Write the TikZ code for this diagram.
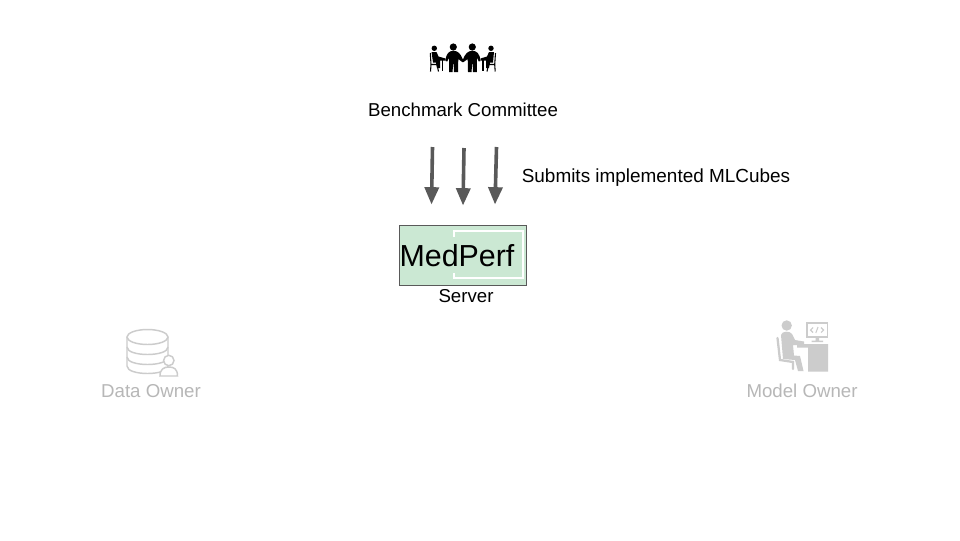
\documentclass[tikz,border=0pt]{standalone}
\usepackage{fontspec}
\setmainfont{Liberation Sans}
\usetikzlibrary{arrows.meta}
\definecolor{arrowgrey}{HTML}{595959}
\definecolor{fadegrey}{HTML}{B7B7B7}
\definecolor{fadeicon}{HTML}{CCCCCC}
\definecolor{servergreen}{HTML}{CBE8D3}
\tikzset{
  x=0.75pt,y=-0.75pt,
  label text/.style={font=\fontsize{14}{16}\selectfont,text=black,inner sep=0pt,anchor=base},
  faded text/.style={label text,text=fadegrey},
  flow/.style={draw=arrowgrey,line width=2.7pt,-{Triangle[length=13pt,width=10.5pt]}},
  outline icon/.style={draw=fadeicon,line width=1.1pt,fill=white},
  solid icon/.style={fill=fadeicon,draw=none},
  people/.style={fill=black,draw=none},
}
\begin{document}
\begin{tikzpicture}
\useasboundingbox[fill=white] (0,0) rectangle (960,540);
% committee icon
\fill[people] (434.3,48.3) circle (2.7) (453.3,47) circle (3.6) (472.3,47) circle (3.6) (491,48.3) circle (2.7);
\fill[people] (445.5,61) .. controls (446,53.5) and (449,50.8) .. (453.3,50.8) .. controls (458,50.8) and (460.5,53.5) .. (462.9,59.5) .. controls (465.3,53.5) and (468,50.8) .. (472.3,50.8) .. controls (476.8,50.8) and (479.8,53.5) .. (480.5,61) -- (478.8,61.5) -- (477,58) -- (476.8,72) -- (473,72) -- (472.6,64) -- (472,64) -- (471.6,72) -- (468,72) -- (467.7,59) -- (463.6,62) -- (462.2,62) -- (458.3,59) -- (458,72) -- (454,72) -- (453.6,64) -- (453,64) -- (452.6,72) -- (449,72) -- (449,58) -- (447.2,61.5) -- cycle;
\fill[people] (431.5,52) -- (436.5,52) -- (438.5,56.5) -- (445.5,58.5) -- (445.5,60.5) -- (440,60.5) -- (440,68) -- (437,68) -- (436,62.5) -- (433,62.5) -- cycle;
\fill[people] (494,52) -- (489,52) -- (487,56.5) -- (480.5,58.5) -- (480.5,60.5) -- (486,60.5) -- (486,68) -- (489,68) -- (490,62.5) -- (493,62.5) -- cycle;
\draw[black,line width=0.8pt] (430.3,53) -- (431,64.5) -- (437,64.5) -- (438.5,71.5) (431,64.5) -- (430.5,71.5) (495.5,53) -- (494.7,64.5) -- (488.5,64.5) -- (487,71.5) (494.7,64.5) -- (495.2,71.5);
\draw[black,line width=0.8pt] (442.5,60) -- (442.5,70.5) (483,60) -- (483,70.5);
\node[label text] (committee) at (463,116) {Benchmark Committee};
% arrows
\coordinate (a1s) at (432.5,147); \coordinate (a1e) at (431.5,204.5);
\coordinate (a2s) at (464,148);   \coordinate (a2e) at (463,205.5);
\coordinate (a3s) at (496.5,147); \coordinate (a3e) at (495,204.5);
\draw[flow] (a1s) -- (a1e);
\draw[flow] (a2s) -- (a2e);
\draw[flow] (a3s) -- (a3e);
\node[label text,font=\fontsize{14.2}{16}\selectfont] (submits) at (656,182) {Submits implemented MLCubes};
% server
\node[draw=arrowgrey,fill=servergreen,line width=0.75pt,minimum width=95.25pt,minimum height=44.6pt,inner sep=0pt] (server) at (463,255.7) {};
\draw[white,line width=1.2pt] (454,236.7) -- (454,231) -- (523,231) -- (523,278) -- (454,278) -- (454,273);
\node[font=\fontsize{22.8}{26}\selectfont,inner sep=0pt,text=black,anchor=base] (medperf) at (457,266) {MedPerf};
\node[label text] (serverlabel) at (466,302) {Server};
% data owner icon
\draw[outline icon] (127,337) -- (127,366) .. controls (127,376) and (168,376) .. (168,366) -- (168,337);
\draw[outline icon] (147.5,337) ellipse (20.5 and 7.5);
\draw[draw=fadeicon,line width=1.1pt] (127,347) .. controls (127,357) and (168,357) .. (168,347) (127,357) .. controls (127,367) and (168,367) .. (168,357);
\draw[outline icon] (160,376) .. controls (160,369) and (164,367) .. (169,367) .. controls (174,367) and (177.5,369) .. (177.5,376) -- cycle;
\draw[outline icon] (168.8,360.5) circle (5.2);
\node[faded text] (dataowner) at (151,397) {Data Owner};
% model owner icon
\fill[solid icon] (786.7,325.5) circle (5.2);
\fill[solid icon] (781,335) .. controls (781.5,331) and (790,330.5) .. (792,334) -- (795,340) -- (804,341.5) -- (804,345) -- (793,345) -- (794,355.5) -- (800,356) -- (803.5,371) -- (798,371) -- (795,360) -- (783,359) -- cycle;
\draw[fadeicon,line width=1.7pt,line cap=round] (777.5,338) -- (780,360) -- (793,362) -- (793,369);
\draw[fadeicon,line width=1.4pt,fill=white] (807,323) rectangle (827.5,337);
\fill[solid icon] (815.5,337) rectangle (819,341) (811.5,340.5) rectangle (823,342);
\fill[solid icon] (797,344) rectangle (828,347.5) (808,347) rectangle (828,371.5);
\draw[fadeicon,line width=0.8pt] (813,327.5) -- (810.5,330) -- (813,332.5) (815.8,333) -- (818,327) (821,327.5) -- (823.5,330) -- (821,332.5);
\node[faded text] (modelowner) at (802,397) {Model Owner};
\end{tikzpicture}
\end{document}
